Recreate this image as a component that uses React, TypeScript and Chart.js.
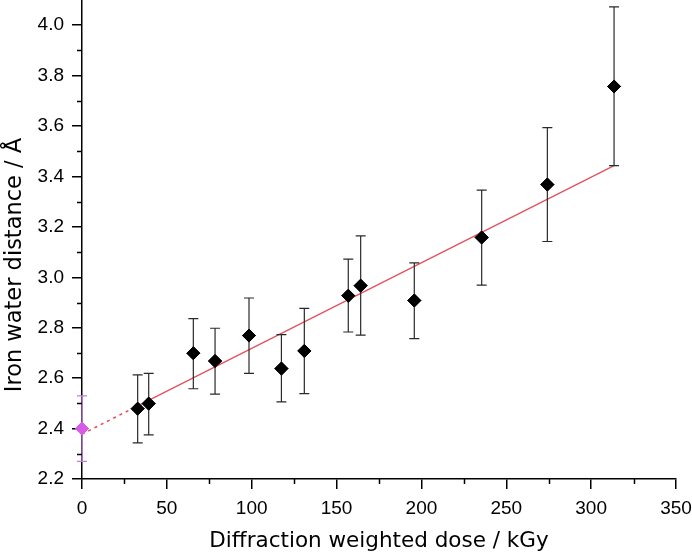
import React, { useEffect, useRef } from "react";
import { Chart, registerables } from "chart.js";

Chart.register(...registerables);

// Reference (zero-dose) point
const refDose = [0];
const refDist = [2.40];
const refLow = [2.27];
const refHigh = [2.53];

// Measured points
const dose = [32.8, 39.3, 65.6, 78.4, 98.4, 117.5, 131.0, 156.9, 164.2, 195.8, 235.5, 274.2, 313.5];
const dist = [2.479, 2.499, 2.699, 2.668, 2.769, 2.638, 2.708, 2.927, 2.967, 2.908, 3.158, 3.368, 3.757];
const errLow = [2.343, 2.375, 2.558, 2.537, 2.619, 2.506, 2.539, 2.783, 2.771, 2.757, 2.969, 3.142, 3.443];
const errHigh = [2.613, 2.619, 2.836, 2.798, 2.918, 2.773, 2.877, 3.072, 3.164, 3.057, 3.346, 3.594, 4.073];

// Linear fit line endpoints (extrapolated part is dotted)
const fitSolidX = [32.8, 313.5];
const fitSolidY = [2.49, 3.443];
const fitDotX = [0, 32.8];
const fitDotY = [2.378, 2.49];

const xTicksMajor = [0, 50, 100, 150, 200, 250, 300, 350];
const xTicksMinor = [25, 75, 125, 175, 225, 275, 325];
const yTicksMajor = [2.2, 2.4, 2.6, 2.8, 3.0, 3.2, 3.4, 3.6, 3.8, 4.0];
const yTicksMinor = [2.3, 2.5, 2.7, 2.9, 3.1, 3.3, 3.5, 3.7, 3.9];

const xTitle = "Diffraction weighted dose / kGy";
const yTitle = "Iron water distance / Å";

const FONT = "'Liberation Sans', Arial, sans-serif";
const TITLE_FONT = "'DejaVu Sans', sans-serif";

const errorBarPlugin = {
  id: "errorBars",
  afterDatasetsDraw(chart: any) {
    const ctx = chart.ctx;
    const xs = chart.scales.x;
    const ys = chart.scales.y;
    const drawBars = (xv: number[], lo: number[], hi: number[], color: string) => {
      ctx.save();
      ctx.strokeStyle = color;
      ctx.lineWidth = 1.2;
      for (let i = 0; i < xv.length; i++) {
        const px = xs.getPixelForValue(xv[i]);
        const pl = ys.getPixelForValue(lo[i]);
        const ph = ys.getPixelForValue(hi[i]);
        ctx.beginPath();
        ctx.moveTo(px, pl);
        ctx.lineTo(px, ph);
        ctx.moveTo(px - 5, pl);
        ctx.lineTo(px + 5, pl);
        ctx.moveTo(px - 5, ph);
        ctx.lineTo(px + 5, ph);
        ctx.stroke();
      }
      ctx.restore();
    };
    drawBars(dose, errLow, errHigh, "#2a2a2a");
    drawBars(refDose, refLow, refHigh, "#c07ee0");
    chart.getDatasetMeta(2).data.forEach((el: any) => el.draw(ctx));
    chart.getDatasetMeta(3).data.forEach((el: any) => el.draw(ctx));
  },
};

const minorTickPlugin = {
  id: "minorTicks",
  afterDraw(chart: any) {
    const ctx = chart.ctx;
    const xs = chart.scales.x;
    const ys = chart.scales.y;
    ctx.save();
    ctx.strokeStyle = "#000";
    ctx.lineWidth = 1.5;
    ctx.beginPath();
    xTicksMinor.forEach((v) => {
      const px = Math.round(xs.getPixelForValue(v)) + 0.5;
      ctx.moveTo(px, xs.top);
      ctx.lineTo(px, xs.top + 5);
    });
    yTicksMinor.forEach((v) => {
      const py = Math.round(ys.getPixelForValue(v)) + 0.5;
      ctx.moveTo(ys.right, py);
      ctx.lineTo(ys.right - 5, py);
    });
    ctx.stroke();
    // y axis title
    ctx.fillStyle = "#000";
    ctx.font = `22.5px ${TITLE_FONT}`;
    ctx.textAlign = "center";
    ctx.textBaseline = "middle";
    ctx.translate(15, 265);
    ctx.rotate(-Math.PI / 2);
    ctx.fillText(yTitle, 0, 0);
    ctx.restore();
  },
};

export default function App() {
  const ref = useRef<HTMLCanvasElement | null>(null);
  useEffect(() => {
    document.body.style.margin = "0";
    const canvas = ref.current!;
    const chart = new Chart(canvas, {
      type: "scatter",
      data: {
        datasets: [
          {
            type: "line",
            data: fitDotX.map((x, i) => ({ x, y: fitDotY[i] })),
            borderColor: "#e4505e",
            borderWidth: 1.6,
            borderDash: [3, 4],
            pointRadius: 0,
            fill: false,
          },
          {
            type: "line",
            data: fitSolidX.map((x, i) => ({ x, y: fitSolidY[i] })),
            borderColor: "#e4505e",
            borderWidth: 1.3,
            pointRadius: 0,
            fill: false,
          },
          {
            data: dose.map((x, i) => ({ x, y: dist[i] })),
            pointStyle: "rectRot",
            pointRadius: 6.5,
            backgroundColor: "#000",
            borderColor: "#000",
            borderWidth: 1,
            clip: false,
          },
          {
            data: refDose.map((x, i) => ({ x, y: refDist[i] })),
            pointStyle: "rectRot",
            pointRadius: 6.5,
            backgroundColor: "#d85ae8",
            borderColor: "#d85ae8",
            borderWidth: 1,
            clip: false,
          } as any,
        ],
      },
      options: {
        animation: false,
        responsive: false,
        layout: { autoPadding: false, padding: { left: 0, right: 16, top: 0, bottom: 0 } },
        plugins: { legend: { display: false }, tooltip: { enabled: false } },
        scales: {
          x: {
            type: "linear",
            min: 0,
            max: 350,
            afterBuildTicks: (s: any) => {
              s.ticks = xTicksMajor.map((v) => ({ value: v }));
            },
            afterFit: (s: any) => {
              s.height = 76;
              s.paddingRight = 0;
              s.paddingLeft = 0;
            },
            border: { display: true, color: "#000", width: 1.5 },
            grid: { drawOnChartArea: false, tickLength: 10, color: "#000", lineWidth: 1.5 },
            ticks: {
              color: "#000",
              padding: 8,
              font: { family: FONT, size: 19 },
              maxRotation: 0,
              callback: (v: any) => String(v),
            },
            title: {
              display: true,
              text: xTitle,
              color: "#000",
              font: { family: TITLE_FONT, size: 21.5 },
              padding: { top: 0, bottom: 1 },
            },
          },
          y: {
            type: "linear",
            min: 2.2,
            max: 4.1,
            afterBuildTicks: (s: any) => {
              s.ticks = yTicksMajor.map((v) => ({ value: v }));
            },
            afterFit: (s: any) => {
              s.width = 82;
              s.paddingTop = 0;
              s.paddingBottom = 0;
            },
            border: { display: true, color: "#000", width: 1.5 },
            grid: { drawOnChartArea: false, tickLength: 10, color: "#000", lineWidth: 1.5 },
            ticks: {
              color: "#000",
              padding: 8,
              font: { family: FONT, size: 19 },
              callback: (v: any) => Number(v).toFixed(1),
            },
          },
        },
      },
      plugins: [errorBarPlugin, minorTickPlugin],
    });
    return () => chart.destroy();
  }, []);
  return <canvas ref={ref} width={692} height={555} style={{ display: "block" }} />;
}
